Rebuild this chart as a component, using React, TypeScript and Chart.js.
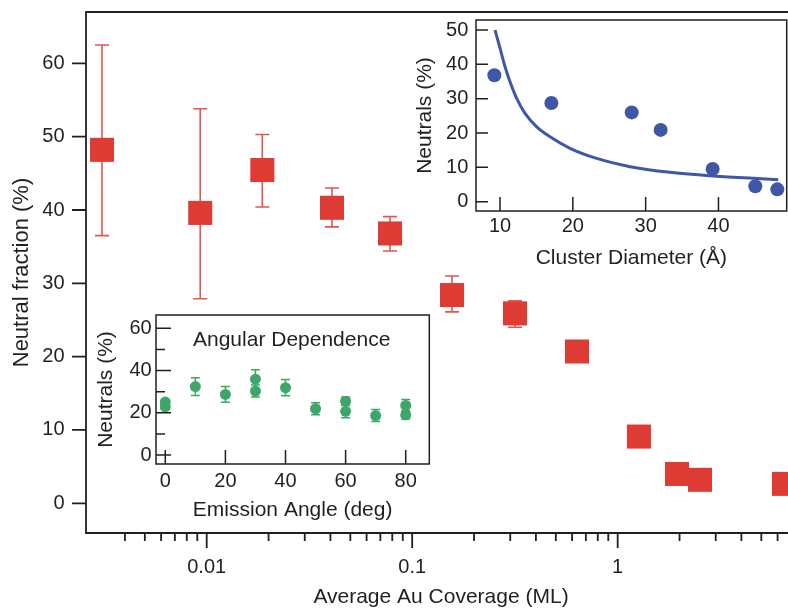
import React, { useEffect, useRef } from "react";
import { Chart, registerables } from "chart.js";

Chart.register(...registerables);

const FONT = "'Liberation Sans', Arial, Helvetica, sans-serif";
const INK = "#231f20";
const RED = "#df3b35";
const RED_ERR = "#e4554f";
const GREEN = "#3ea66b";
const BLUE = "#4057a8";

// ---------- main panel: neutral fraction vs. coverage ----------
const coverage = [0.003094, 0.0093, 0.01865, 0.0407, 0.078, 0.1563, 0.3164, 0.6339, 1.269, 1.944, 2.515, 6.446];
const neutralFraction = [48.2, 39.6, 45.45, 40.3, 36.8, 28.4, 25.9, 20.7, 9.1, 4.0, 3.2, 2.65];
const fractionHigh: (number | null)[] = [62.5, 53.8, 50.3, 43.0, 39.1, 31.0, 27.6, null, null, null, null, null];
const fractionLow: (number | null)[] = [36.5, 27.9, 40.4, 37.7, 34.4, 26.1, 24.0, null, null, null, null, null];
const coverageLabelTicks = [0.01, 0.1, 1];
const coverageMinorTicks = [
  0.004, 0.005, 0.006, 0.007, 0.008, 0.009,
  0.02, 0.03, 0.04, 0.05, 0.06, 0.07, 0.08, 0.09,
  0.2, 0.3, 0.4, 0.5, 0.6, 0.7, 0.8, 0.9,
  2, 3, 4, 5, 6, 7,
];
const fractionTicks = [0, 10, 20, 30, 40, 50, 60];

// ---------- inset: angular dependence ----------
const emissionAngle = [0, 0, 10, 20, 30, 30, 40, 50, 60, 60, 70, 80, 80];
const angularNeutrals = [25.05, 22.8, 32.4, 28.7, 35.9, 30.3, 31.9, 21.9, 25.5, 20.7, 18.7, 23.5, 19.0];
const angularError = [1.0, 1.0, 4.2, 3.7, 4.5, 2.8, 3.8, 2.8, 2.0, 3.1, 2.8, 2.8, 2.0];
const angleTicks = [0, 20, 40, 60, 80];
const angularTicks = [0, 20, 40, 60];
const angularMinorTicks = [10, 30, 50];

// ---------- inset: cluster diameter ----------
const clusterDiameter = [9.22, 17.05, 28.08, 32.06, 39.2, 45.06, 48.08];
const clusterNeutrals = [36.8, 28.75, 26.0, 20.9, 9.5, 4.5, 3.6];
const fitDiameter = [9.31, 10.0, 10.69, 11.37, 12.29, 13.43, 15.04, 16.87, 19.61, 23.28, 27.85, 33.34, 38.83, 44.78, 48.2];
const fitNeutrals = [50.0, 44.7, 39.3, 34.95, 30.1, 25.7, 21.8, 18.9, 15.55, 12.6, 10.2, 8.56, 7.57, 6.8, 6.4];
const diameterTicks = [10, 20, 30, 40];
const clusterTicks = [0, 10, 20, 30, 40, 50];

type TickSpec = { axis: "x" | "y"; values: number[]; len: number; out: boolean };

function scaleOpts(o: any) {
  return {
    type: o.type || "linear",
    min: o.min,
    max: o.max,
    afterBuildTicks: (s: any) => {
      s.ticks = o.labels.map((v: number) => ({ value: v }));
    },
    afterFit: (s: any) => {
      if (o.horizontal) s.height = o.size;
      else s.width = o.size;
      s.paddingTop = 0;
      s.paddingBottom = 0;
      s.paddingLeft = 0;
      s.paddingRight = 0;
    },
    grid: { display: false, drawTicks: false },
    border: { display: false },
    ticks: {
      autoSkip: false,
      maxRotation: 0,
      minRotation: 0,
      padding: o.tickPad,
      color: INK,
      font: { family: FONT, size: o.tickFont },
      callback: (v: any) => String(v),
    },
    title: {
      display: true,
      text: o.title,
      color: INK,
      font: { family: FONT, size: o.titleFont },
      padding: o.titlePad,
    },
  };
}

function framePlugin(id: string, cfg: { box: "full" | "open"; lw: number; fill: boolean; ticks: TickSpec[]; note?: { text: string; dx: number; dy: number; size: number } }) {
  return {
    id,
    beforeDraw(chart: any) {
      if (!cfg.fill) return;
      const { ctx, chartArea: a } = chart;
      ctx.save();
      ctx.fillStyle = "#ffffff";
      ctx.fillRect(a.left, a.top, a.right - a.left, a.bottom - a.top);
      ctx.restore();
    },
    afterDatasetsDraw(chart: any) {
      const { ctx, chartArea: a, scales } = chart;
      ctx.save();
      ctx.strokeStyle = INK;
      ctx.lineWidth = cfg.lw;
      ctx.lineCap = "butt";
      ctx.lineJoin = "miter";
      ctx.beginPath();
      if (cfg.box === "full") {
        ctx.rect(a.left, a.top, a.right - a.left, a.bottom - a.top);
      } else {
        ctx.moveTo(a.right + 5, a.top);
        ctx.lineTo(a.left, a.top);
        ctx.lineTo(a.left, a.bottom);
        ctx.lineTo(a.right + 5, a.bottom);
      }
      ctx.stroke();
      for (const t of cfg.ticks) {
        ctx.beginPath();
        for (const v of t.values) {
          if (t.axis === "x") {
            const px = scales.x.getPixelForValue(v);
            if (px < a.left - 0.5 || px > a.right + 0.5) continue;
            ctx.moveTo(px, a.bottom);
            ctx.lineTo(px, t.out ? a.bottom + t.len : a.bottom - t.len);
          } else {
            const py = scales.y.getPixelForValue(v);
            ctx.moveTo(a.left, py);
            ctx.lineTo(t.out ? a.left - t.len : a.left + t.len, py);
          }
        }
        ctx.stroke();
      }
      if (cfg.note) {
        ctx.fillStyle = INK;
        ctx.font = `${cfg.note.size}px ${FONT}`;
        ctx.textAlign = "left";
        ctx.textBaseline = "alphabetic";
        ctx.fillText(cfg.note.text, a.left + cfg.note.dx, a.top + cfg.note.dy);
      }
      ctx.restore();
    },
  };
}

function errorBarPlugin(id: string, xs: number[], lows: (number | null)[], highs: (number | null)[], color: string, cap: number, lw: number) {
  return {
    id,
    beforeDatasetsDraw(chart: any) {
      const { ctx, scales } = chart;
      ctx.save();
      ctx.strokeStyle = color;
      ctx.lineWidth = lw;
      ctx.beginPath();
      xs.forEach((x, i) => {
        const lo = lows[i];
        const hi = highs[i];
        if (lo == null || hi == null) return;
        const px = scales.x.getPixelForValue(x);
        const pl = scales.y.getPixelForValue(lo);
        const ph = scales.y.getPixelForValue(hi);
        ctx.moveTo(px, pl);
        ctx.lineTo(px, ph);
        ctx.moveTo(px - cap, pl);
        ctx.lineTo(px + cap, pl);
        ctx.moveTo(px - cap, ph);
        ctx.lineTo(px + cap, ph);
      });
      ctx.stroke();
      ctx.restore();
    },
  };
}

function useChart(ref: React.RefObject<HTMLCanvasElement>, build: () => any) {
  useEffect(() => {
    if (!ref.current) return;
    const c = new Chart(ref.current, build());
    return () => c.destroy();
  }, []);
}

const baseOpts = {
  responsive: false,
  maintainAspectRatio: false,
  animation: false,
  devicePixelRatio: 1,
  events: [] as any[],
  plugins: { legend: { display: false }, tooltip: { enabled: false }, title: { display: false } },
};

export default function App() {
  const mainRef = useRef<HTMLCanvasElement>(null);
  const angRef = useRef<HTMLCanvasElement>(null);
  const sizeRef = useRef<HTMLCanvasElement>(null);

  useChart(mainRef, () => ({
    type: "scatter",
    data: {
      datasets: [
        {
          data: coverage.map((x, i) => ({ x, y: neutralFraction[i] })),
          pointStyle: "rect",
          pointRadius: 17,
          backgroundColor: RED,
          borderWidth: 0,
        },
      ],
    },
    options: {
      ...baseOpts,
      layout: { autoPadding: false, padding: { top: 12, left: 0, right: 0, bottom: 0 } },
      scales: {
        x: scaleOpts({
          type: "logarithmic", min: 0.002586, max: 7.375, labels: coverageLabelTicks, horizontal: true, size: 77,
          tickPad: 22, tickFont: 20, title: "Average Au Coverage (ML)", titleFont: 21, titlePad: { top: 0, bottom: 0 },
        }),
        y: scaleOpts({
          min: -4.05, max: 67.0, labels: fractionTicks, horizontal: false, size: 86,
          tickPad: 21.5, tickFont: 20, title: "Neutral fraction (%)", titleFont: 22, titlePad: { top: 8.8, bottom: 0 },
        }),
      },
    },
    plugins: [
      errorBarPlugin("mainErr", coverage, fractionLow, fractionHigh, RED_ERR, 7, 1.6),
      framePlugin("mainFrame", {
        box: "open", lw: 1.8, fill: false,
        ticks: [
          { axis: "y", values: fractionTicks, len: 14, out: true },
          { axis: "x", values: coverageLabelTicks, len: 15, out: true },
          { axis: "x", values: coverageMinorTicks, len: 8, out: true },
        ],
      }),
    ],
  }));

  useChart(angRef, () => ({
    type: "scatter",
    data: {
      datasets: [
        {
          data: emissionAngle.map((x, i) => ({ x, y: angularNeutrals[i] })),
          pointStyle: "circle",
          pointRadius: 5.5,
          backgroundColor: GREEN,
          borderWidth: 0,
        },
      ],
    },
    options: {
      ...baseOpts,
      layout: { autoPadding: false, padding: { top: 10, left: 0, right: 5.7, bottom: 0 } },
      scales: {
        x: scaleOpts({
          min: -3.09, max: 87.85, labels: angleTicks, horizontal: true, size: 66,
          tickPad: 5.7, tickFont: 20, title: "Emission Angle (deg)", titleFont: 21, titlePad: { top: 0, bottom: 7.4 },
        }),
        y: scaleOpts({
          min: -4.26, max: 66.3, labels: angularTicks, horizontal: false, size: 66,
          tickPad: 4.3, tickFont: 20, title: "Neutrals (%)", titleFont: 21, titlePad: { top: 4.1, bottom: 0 },
        }),
      },
    },
    plugins: [
      errorBarPlugin(
        "angErr",
        emissionAngle,
        angularNeutrals.map((v, i) => v - angularError[i]),
        angularNeutrals.map((v, i) => v + angularError[i]),
        GREEN, 4.5, 1.5
      ),
      framePlugin("angFrame", {
        box: "full", lw: 1.5, fill: true,
        ticks: [
          { axis: "y", values: angularTicks, len: 15, out: false },
          { axis: "y", values: angularMinorTicks, len: 9, out: false },
          { axis: "x", values: angleTicks, len: 14, out: false },
        ],
        note: { text: "Angular Dependence", dx: 37, dy: 31, size: 21 },
      }),
    ],
  }));

  useChart(sizeRef, () => ({
    type: "scatter",
    data: {
      datasets: [
        {
          data: clusterDiameter.map((x, i) => ({ x, y: clusterNeutrals[i] })),
          pointStyle: "circle",
          pointRadius: 7,
          backgroundColor: BLUE,
          borderWidth: 0,
        },
        {
          type: "line",
          data: fitDiameter.map((x, i) => ({ x, y: fitNeutrals[i] })),
          borderColor: BLUE,
          borderWidth: 3,
          pointRadius: 0,
          cubicInterpolationMode: "monotone",
          fill: false,
        },
      ],
    },
    options: {
      ...baseOpts,
      layout: { autoPadding: false, padding: { top: 10, left: 0, right: 1.3, bottom: 0 } },
      scales: {
        x: scaleOpts({
          min: 6.7, max: 49.37, labels: diameterTicks, horizontal: true, size: 64,
          tickPad: 3.7, tickFont: 20, title: "Cluster Diameter (Å)", titleFont: 21, titlePad: { top: 0, bottom: 4.1 },
        }),
        y: scaleOpts({
          min: -2.71, max: 52.91, labels: clusterTicks, horizontal: false, size: 71,
          tickPad: 7.7, tickFont: 20, title: "Neutrals (%)", titleFont: 21, titlePad: { top: 7.4, bottom: 0 },
        }),
      },
    },
    plugins: [
      framePlugin("sizeFrame", {
        box: "full", lw: 1.5, fill: true,
        ticks: [
          { axis: "y", values: clusterTicks, len: 12, out: false },
          { axis: "x", values: diameterTicks, len: 14, out: false },
        ],
      }),
    ],
  }));

  return (
    <div style={{ position: "absolute", left: 0, top: 0, width: 788, height: 610, overflow: "hidden", background: "#ffffff" }}>
      <canvas ref={mainRef} width={796} height={610} style={{ position: "absolute", left: 0, top: 0, width: 796, height: 610, display: "block" }} />
      <canvas ref={angRef} width={345} height={225} style={{ position: "absolute", left: 90, top: 305, width: 345, height: 225, display: "block" }} />
      <canvas ref={sizeRef} width={383} height={265} style={{ position: "absolute", left: 405, top: 10, width: 383, height: 265, display: "block" }} />
    </div>
  );
}
